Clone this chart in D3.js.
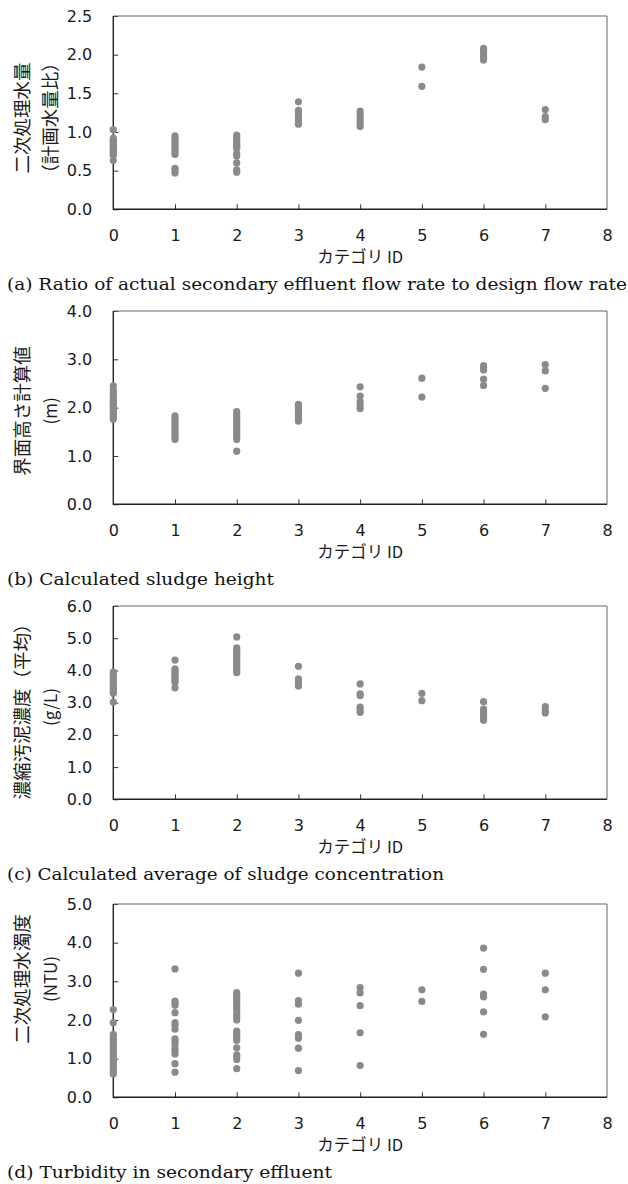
<!DOCTYPE html>
<html>
<head>
<meta charset="UTF-8">
<title>カテゴリ別 散布図</title>
<script src="https://cdnjs.cloudflare.com/ajax/libs/d3/7.8.5/d3.min.js"></script>
<style>
  body { margin: 0; background: #fff; }
  svg { display: block; }
  .tick text { font-family: "DejaVu Sans", sans-serif; font-size: 16px; fill: #1a1a1a; }
  .tick line { stroke: #333; }
  .ytitle, .xtitle { font-family: "Noto Sans CJK JP", sans-serif; fill: #1a1a1a; }
  .caption { font-family: "DejaVu Serif", serif; font-size: 17px; fill: #111; }
</style>
</head>
<body>
<div id="chart"></div>
<script>
// category ids on the x axis
const categories = [0, 1, 2, 3, 4, 5, 6, 7];
const xTicks = [0, 1, 2, 3, 4, 5, 6, 7, 8];

// (a) secondary effluent flow / design flow, one array per category
const flowRatio = [
  [1.03, 0.92, 0.90, 0.88, 0.86, 0.84, 0.82, 0.80, 0.78, 0.76, 0.74, 0.72, 0.70, 0.63],
  [0.95, 0.92, 0.89, 0.86, 0.83, 0.80, 0.77, 0.74, 0.71, 0.53, 0.50, 0.47],
  [0.96, 0.93, 0.90, 0.87, 0.84, 0.81, 0.79, 0.72, 0.69, 0.60, 0.51, 0.48],
  [1.39, 1.28, 1.25, 1.20, 1.16, 1.13, 1.10],
  [1.27, 1.23, 1.19, 1.15, 1.11, 1.07],
  [1.84, 1.59],
  [2.08, 2.05, 2.02, 1.98, 1.95, 1.93],
  [1.29, 1.20, 1.16]
];

// (b) calculated sludge blanket height (m)
const sludgeHeight = [
  [2.45, 2.36, 2.30, 2.25, 2.20, 2.15, 2.11, 2.07, 2.03, 1.99, 1.95, 1.91, 1.87, 1.83, 1.79, 1.76],
  [1.83, 1.78, 1.73, 1.68, 1.63, 1.58, 1.53, 1.48, 1.43, 1.38, 1.34],
  [1.92, 1.86, 1.80, 1.75, 1.70, 1.65, 1.60, 1.55, 1.50, 1.45, 1.40, 1.34, 1.10],
  [2.07, 2.01, 1.96, 1.91, 1.86, 1.81, 1.76, 1.72],
  [2.43, 2.24, 2.13, 2.05, 1.98],
  [2.61, 2.22],
  [2.87, 2.82, 2.78, 2.59, 2.46],
  [2.89, 2.76, 2.40]
];

// (c) average thickened sludge concentration (g/L)
const sludgeConc = [
  [3.95, 3.89, 3.83, 3.77, 3.71, 3.65, 3.59, 3.53, 3.47, 3.41, 3.35, 3.29, 3.02],
  [4.32, 4.05, 3.99, 3.93, 3.87, 3.81, 3.75, 3.68, 3.63, 3.46],
  [5.04, 4.70, 4.63, 4.56, 4.49, 4.42, 4.35, 4.28, 4.21, 4.14, 4.07, 4.00, 3.93],
  [4.13, 3.74, 3.67, 3.60, 3.52],
  [3.58, 3.27, 3.22, 2.86, 2.78, 2.70],
  [3.29, 3.06],
  [3.03, 2.80, 2.73, 2.66, 2.59, 2.52, 2.45],
  [2.88, 2.77, 2.68]
];

// (d) secondary effluent turbidity (NTU)
const turbidity = [
  [2.27, 1.93, 1.63, 1.56, 1.50, 1.44, 1.38, 1.32, 1.26, 1.20, 1.14, 1.08, 1.02, 0.96, 0.90, 0.84, 0.78, 0.72, 0.66, 0.60],
  [3.32, 2.49, 2.44, 2.38, 2.19, 1.93, 1.86, 1.76, 1.51, 1.44, 1.36, 1.26, 1.19, 1.12, 0.87, 0.65],
  [2.71, 2.65, 2.59, 2.53, 2.46, 2.39, 2.31, 2.24, 2.13, 2.06, 2.00, 1.71, 1.65, 1.59, 1.53, 1.47, 1.28, 1.10, 1.04, 0.98, 0.74],
  [3.21, 2.50, 2.41, 1.99, 1.62, 1.53, 1.27, 0.69],
  [2.84, 2.70, 2.37, 1.67, 0.82],
  [2.78, 2.48],
  [3.86, 3.31, 2.67, 2.60, 2.21, 1.63],
  [3.21, 2.78, 2.08]
];

const yTicksA = [0, 0.5, 1.0, 1.5, 2.0, 2.5];
const yTicksB = [0, 1, 2, 3, 4];
const yTicksC = [0, 1, 2, 3, 4, 5, 6];
const yTicksD = [0, 1, 2, 3, 4, 5];

const xTitle = "カテゴリ ID";

const panels = [
  { values: flowRatio, yTicks: yTicksA, title: ["二次処理水量", "（計画水量比）"],
    caption: "(a) Ratio of actual secondary effluent flow rate to design flow rate",
    top: 16, titleCenter: 118, capWidth: 620 },
  { values: sludgeHeight, yTicks: yTicksB, title: ["界面高さ計算値", "(m)"],
    caption: "(b) Calculated sludge height",
    top: 311, titleCenter: 411, capWidth: 267 },
  { values: sludgeConc, yTicks: yTicksC, title: ["濃縮汚泥濃度（平均）", "(g/L)"],
    caption: "(c) Calculated average of sludge concentration",
    top: 606, titleCenter: 707, capWidth: 437 },
  { values: turbidity, yTicks: yTicksD, title: ["二次処理水濁度", "(NTU)"],
    caption: "(d) Turbidity in secondary effluent",
    top: 904, titleCenter: 979, capWidth: 325 }
];

const W = 628, H = 1184;
const left = 113.3, right = 607, plotH = 193.3;

const svg = d3.select("#chart").append("svg")
  .attr("width", W)
  .attr("height", H);

const x = d3.scaleLinear().domain([0, 8]).range([left, right]);

panels.forEach(p => {
  const bottom = p.top + plotH;
  const yMax = p.yTicks[p.yTicks.length - 1];
  const y = d3.scaleLinear().domain([0, yMax]).range([bottom, p.top]);
  const g = svg.append("g");

  // y axis, ticks pointing inward
  const yAxis = g.append("g")
    .attr("transform", `translate(${left},0)`)
    .call(d3.axisLeft(y).tickValues(p.yTicks).tickFormat(d3.format(".1f"))
      .tickSizeInner(-5).tickSizeOuter(0).tickPadding(21));
  yAxis.select(".domain").remove();

  const xAxis = g.append("g")
    .attr("transform", `translate(0,${bottom})`)
    .call(d3.axisBottom(x).tickValues(xTicks).tickFormat(d3.format("d"))
      .tickSizeInner(-5).tickSizeOuter(0).tickPadding(20.5));
  xAxis.select(".domain").remove();
  xAxis.selectAll(".tick line").filter(d => d === 0 || d === 8).remove();

  // frame: light top/right, dark left/bottom
  g.append("path")
    .attr("d", `M${left},${p.top}H${right}V${bottom}`)
    .attr("fill", "none").attr("stroke", "#666").attr("stroke-width", 1);
  g.append("path")
    .attr("d", `M${left},${p.top}V${bottom}H${right}`)
    .attr("fill", "none").attr("stroke", "#222").attr("stroke-width", 1.4);

  // points
  const pts = [];
  categories.forEach((c, i) => p.values[i].forEach(v => pts.push({ c, v })));
  g.append("g").selectAll("circle")
    .data(pts)
    .join("circle")
    .attr("cx", d => x(d.c))
    .attr("cy", d => y(d.v))
    .attr("r", 3.6)
    .attr("fill", "#8a8a8c");

  // axis titles
  g.append("text")
    .attr("class", "xtitle")
    .attr("x", (left + right) / 2)
    .attr("y", bottom + 54)
    .attr("text-anchor", "middle")
    .attr("font-size", 16.5)
    .text(xTitle);

  g.append("text")
    .attr("class", "ytitle")
    .attr("transform", `translate(29,${p.titleCenter}) rotate(-90)`)
    .attr("text-anchor", "middle")
    .attr("font-size", 18.5)
    .text(p.title[0]);
  g.append("text")
    .attr("class", "ytitle")
    .attr("transform", `translate(57,${p.titleCenter}) rotate(-90)`)
    .attr("text-anchor", "middle")
    .attr("font-size", p.title[1].startsWith("（") ? 18.5 : 17)
    .text(p.title[1]);

  // caption
  g.append("text")
    .attr("class", "caption")
    .attr("x", 7)
    .attr("y", bottom + 81)
    .attr("textLength", p.capWidth)
    .attr("lengthAdjust", "spacingAndGlyphs")
    .text(p.caption);
});
</script>
</body>
</html>
